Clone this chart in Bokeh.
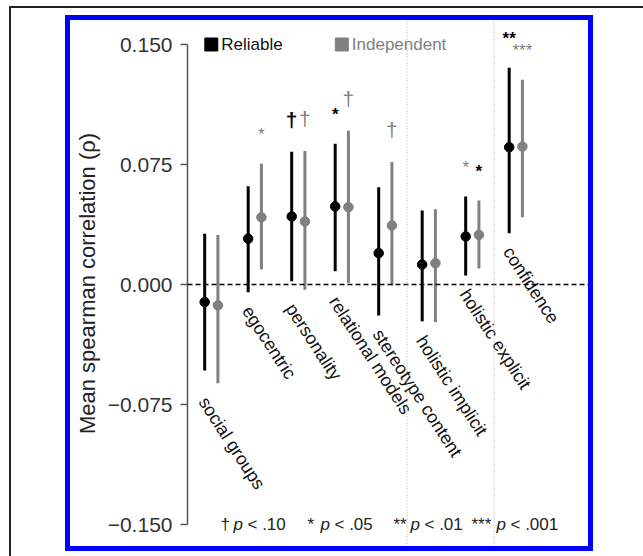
import math
from bokeh.plotting import figure
from bokeh.layouts import column
from bokeh.models import Span, FixedTicker, Range1d
from bokeh.core.properties import value
from bokeh.embed import file_html
from bokeh.resources import INLINE

# ---------------- data ----------------
categories = ["social groups", "egocentric", "personality", "relational models",
              "stereotype content", "holistic implicit", "holistic explicit", "confidence"]
rel_mean = [-0.011, 0.0286, 0.0425, 0.0488, 0.0196, 0.0125, 0.030, 0.0858]
rel_lo = [-0.0537, -0.0048, 0.002, 0.0083, -0.0194, -0.023, 0.0056, 0.0321]
rel_hi = [0.0317, 0.0614, 0.083, 0.0879, 0.0608, 0.0463, 0.055, 0.1354]
ind_mean = [-0.013, 0.042, 0.0394, 0.0483, 0.0369, 0.0133, 0.031, 0.0862]
ind_lo = [-0.0617, 0.0094, -0.0033, 0.001, -0.0006, -0.0235, 0.010, 0.042]
ind_hi = [0.031, 0.0754, 0.0834, 0.0961, 0.0765, 0.047, 0.0525, 0.128]

# significance markers: (category index 1-based, side -1 = reliable / +1 = independent, text)
black_sig_cat = [3, 4, 7, 8]
black_sig_side = [-1, -1, 1, -1]
black_sig_text = ["†", "*", "*", "**"]
gray_sig_cat = [2, 3, 4, 5, 7, 8]
gray_sig_side = [1, 1, 1, 1, -1, 1]
gray_sig_text = ["*", "†", "†", "†", "*", "***"]

y_ticks = [-0.15, -0.075, 0.0, 0.075, 0.15]
y_tick_labels = ["\u22120.150", "\u22120.075", "0.000", "0.075", "0.150"]
legend_labels = ["Reliable", "Independent"]
foot_syms = ["†", "*", "**", "***"]
foot_texts = ["< .10", "< .05", "< .01", "< .001"]

# ---------------- layout constants (page px) ----------------
FONT = value("Liberation Sans")
BLACK = "#000000"
GRAY = "#808080"
CANVAS_L, CANVAS_T = 70, 20          # figure canvas origin inside the blue box
CANVAS_W, CANVAS_H = 518, 526
PX_X = 43.5                           # px per category
FRAME_L, FRAME_R = 187, CANVAS_L + CANVAS_W
X0 = 1 - (210.8 - FRAME_L) / PX_X
X1 = X0 + (FRAME_R - FRAME_L) / PX_X
PX_Y = 1600.0
ZERO_Y = 284
Y_TOP = (ZERO_Y - CANVAS_T) / PX_Y
Y_BOT = -(CANVAS_T + CANVAS_H - ZERO_Y) / PX_Y
OFF = 0.152


def px2x(px):
    return X0 + (px - FRAME_L) / PX_X


p = figure(width=CANVAS_W, height=CANVAS_H, output_backend="svg", toolbar_location=None,
           x_range=Range1d(X0, X1), y_range=Range1d(Y_BOT, Y_TOP),
           x_axis_location=None, min_border_left=FRAME_L - CANVAS_L, min_border_right=0,
           min_border_top=0, min_border_bottom=0)
p.outline_line_color = None
p.grid.visible = False
p.background_fill_color = "white"
p.border_fill_color = "white"

# y axis
ax = p.yaxis[0]
ax.bounds = (-0.15, 0.15)
ax.ticker = FixedTicker(ticks=y_ticks)
ax.major_label_overrides = {t: l for t, l in zip(y_ticks, y_tick_labels)}
ax.minor_tick_line_color = None
ax.major_tick_in = 0
ax.major_tick_out = 7
ax.axis_line_color = "#555555"
ax.axis_line_width = 1.5
ax.major_tick_line_color = "#555555"
ax.major_tick_line_width = 1.5
ax.major_label_text_font = "Liberation Sans"
ax.major_label_text_font_size = "21px"
ax.major_label_text_color = "#333333"
ax.major_label_standoff = 8
ax.axis_label = "Mean spearman correlation (\u03c1)"
ax.axis_label_text_font = "Liberation Sans"
ax.axis_label_text_font_size = "22px"
ax.axis_label_text_font_style = "normal"
ax.axis_label_text_color = "#222222"
ax.axis_label_standoff = 5

# reference lines
p.add_layout(Span(location=0, dimension="width", line_color=BLACK,
                  line_width=1.5, line_dash="5 3"))
for loc in (5.5, 7.5):
    p.add_layout(Span(location=loc, dimension="height", line_color="#aaaaaa",
                      line_width=1, line_dash="1 2"))

cats = list(range(1, len(categories) + 1))
xr = [c - OFF for c in cats]
xi = [c + OFF for c in cats]

# error bars and points
p.segment(x0=xr, y0=rel_lo, x1=xr, y1=rel_hi, line_color=BLACK, line_width=3)
p.segment(x0=xi, y0=ind_lo, x1=xi, y1=ind_hi, line_color=GRAY, line_width=3)
p.scatter(xr, rel_mean, size=9.5, color=BLACK)
p.scatter(xi, ind_mean, size=9.5, color=GRAY)


# significance markers
def add_sig(cat_l, side_l, txt_l, color, style):
    for c, s, t in zip(cat_l, side_l, txt_l):
        i = c - 1
        hi = rel_hi[i] if s < 0 else ind_hi[i]
        x = c + s * OFF
        if t.startswith("*"):
            fs = 17
            shift = 0.59 * fs
        else:
            fs = 21
            shift = 0.30 * fs
        p.text([x], [hi], text=[t], text_font=FONT, text_font_size=f"{fs}px",
               text_font_style=style, text_color=color, text_align="center",
               text_baseline="alphabetic", y_offset=-39 + shift)


add_sig(black_sig_cat, black_sig_side, black_sig_text, BLACK, "bold")
add_sig(gray_sig_cat, gray_sig_side, gray_sig_text, GRAY, "normal")

# category labels
label_y = [min(a, b) for a, b in zip(rel_lo, ind_lo)]
p.text(cats, label_y, text=categories, angle=math.radians(-57),
       text_font=FONT, text_font_size="18px", text_color="#111111",
       text_align="left", text_baseline="top", y_offset=10)

# legend
p.scatter([1], [0.15], marker="square", size=13, color=BLACK)
p.text([1], [0.15], text=[legend_labels[0]], text_font=FONT, text_font_size="17px",
       text_color="#111111", text_align="left", text_baseline="middle", x_offset=10)
p.scatter([4], [0.15], marker="square", size=13, color=GRAY)
p.text([4], [0.15], text=[legend_labels[1]], text_font=FONT, text_font_size="17px",
       text_color=GRAY, text_align="left", text_baseline="middle", x_offset=10)

# footnote
sym_px = [220, 307, 393, 471]
p_px = [233, 320, 410, 496]
for sp, pp, s, t in zip(sym_px, p_px, foot_syms, foot_texts):
    p.text([px2x(sp)], [-0.15], text=[s], text_font=FONT, text_font_size="17px",
           text_color="#222222", text_align="left", text_baseline="middle")
    p.text([px2x(pp)], [-0.15], text=["p"], text_font=FONT, text_font_size="17px",
           text_font_style="italic", text_color="#222222", text_align="left",
           text_baseline="middle")
    p.text([px2x(pp)], [-0.15], text=[t], text_font=FONT, text_font_size="17px",
           text_color="#222222", text_align="left", text_baseline="middle",
           x_offset=14)

# frames: blue box around the figure, thin dark lines at the left/top of the page
inner = column(p, styles={"border": "5px solid #0000ff", "background": "white"})
outer = column(inner, styles={"border-left": "2px solid #222222",
                              "border-top": "2px solid #222222",
                              "padding-left": "54px", "padding-top": "7px",
                              "padding-right": "50px", "padding-bottom": "5px",
                              "margin-left": "9px", "margin-top": "6px",
                              "background": "white"})

open("out.html", "w").write(file_html(outer, INLINE))
